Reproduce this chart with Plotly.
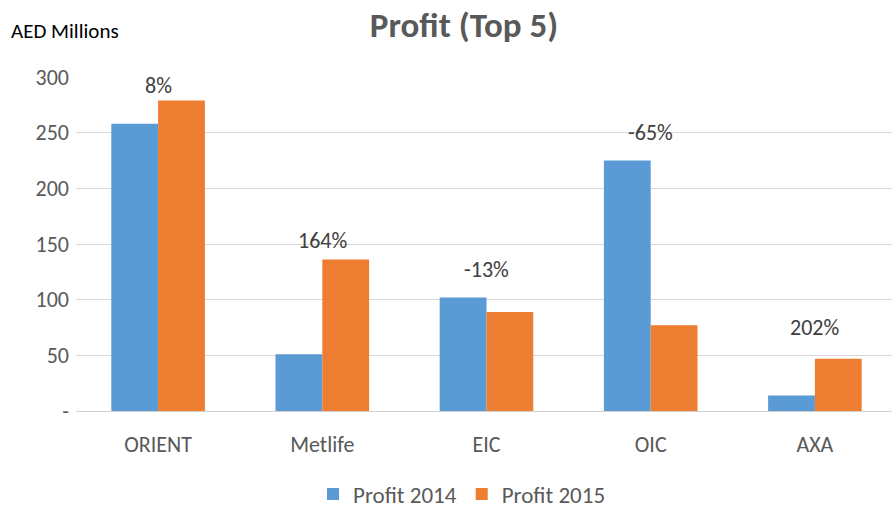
import plotly.graph_objects as go

categories = ["ORIENT", "Metlife", "EIC", "OIC", "AXA"]
profit_2014 = [258, 51, 102, 225, 14]
profit_2015 = [279, 136, 89, 77, 47]
change_labels = ["8%", "164%", "-13%", "-65%", "202%"]
label_y = [292, 153, 127, 250, 75]
tick_vals = [0, 50, 100, 150, 200, 250, 300]
tick_text = ["-", "50", "100", "150", "200", "250", "300"]

FONT = "Carlito, Lato, 'Liberation Sans', sans-serif"
TXT = "#595959"
W, H = 897, 508

fig = go.Figure()
fig.add_trace(go.Bar(name="Profit 2014", x=categories, y=profit_2014,
                     marker=dict(color="#5B9BD5", line=dict(width=0))))
fig.add_trace(go.Bar(name="Profit 2015", x=categories, y=profit_2015,
                     marker=dict(color="#ED7D31", line=dict(width=0))))

for c, t, yv in zip(categories, change_labels, label_y):
    fig.add_annotation(x=c, y=yv, text=t, showarrow=False,
                       font=dict(family=FONT, size=22, color="#404040"))

fig.add_annotation(text="AED Millions", xref="paper", yref="paper",
                   x=0, y=(411 - 31) / 334, xanchor="left", yanchor="middle",
                   showarrow=False, font=dict(family=FONT, size=21, color="#000000"),
                   xshift=-67)

fig.update_layout(
    width=W, height=H,
    paper_bgcolor="white", plot_bgcolor="white",
    margin=dict(l=76, r=0, t=77, b=97),
    barmode="group", bargap=0.43, bargroupgap=0,
    title=dict(text="<b>Profit (Top 5)</b>", x=464 / W, xanchor="center",
               y=1 - 25 / H, yanchor="middle",
               font=dict(family=FONT, size=35, color=TXT)),
    legend=dict(orientation="h", x=462 / W, xanchor="center", xref="container",
                y=1 - 494 / H, yref="container", yanchor="middle",
                font=dict(family=FONT, size=23, color=TXT),
                itemwidth=30, traceorder="normal"),
    font=dict(family=FONT, color=TXT),
)
fig.update_yaxes(range=[0, 300], tickvals=tick_vals, ticktext=tick_text,
                 showgrid=True, gridcolor="#D9D9D9", gridwidth=1,
                 zeroline=False, showline=False,
                 tickfont=dict(family=FONT, size=22, color=TXT), ticks="",
                 ticklabelstandoff=6)
fig.update_xaxes(showline=True, linecolor="#D0D0D0", linewidth=1,
                 tickfont=dict(family=FONT, size=22, color=TXT), ticks="",
                 ticklabelstandoff=14)

fig.write_html("out.html", config={"displayModeBar": False},
               post_script="document.body.style.margin='0';")
